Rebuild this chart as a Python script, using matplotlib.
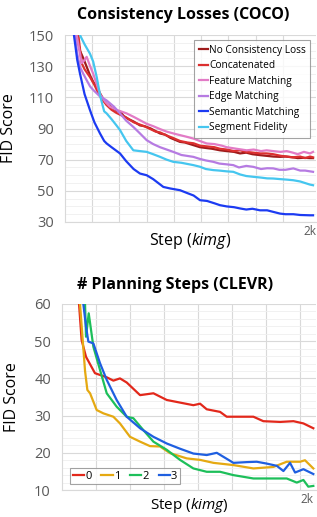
import matplotlib.pyplot as plt
import numpy as np
from matplotlib.ticker import MultipleLocator, FixedLocator

plt.rcParams['font.family'] = ['Open Sans', 'DejaVu Sans']
plt.rcParams['mathtext.fontset'] = 'custom'
plt.rcParams['mathtext.rm'] = 'Open Sans'
plt.rcParams['mathtext.it'] = 'Open Sans:italic'

# ---- top chart: consistency losses on COCO (x in kimg, y = FID) ----
noloss_x = [95, 122, 150, 177, 205, 230, 259, 290, 320, 340, 380, 420, 449, 480, 520, 560, 612, 650, 700, 776, 820, 860,
            939, 980, 1020, 1102, 1150, 1200, 1265, 1320, 1380, 1429, 1480, 1530, 1592, 1640, 1700, 1755, 1800, 1860,
            1900, 1950, 2000, 2025]
noloss_y = [150, 140, 135, 129.6, 124, 120, 116.8, 112, 108, 106, 103.5, 101.5, 100.8, 98, 96, 94.5, 92, 91.5, 90, 86.8,
            86, 84, 81.4, 81, 80, 78, 77.5, 77, 76, 75.5, 75, 74, 74.5, 73.5, 72.9, 72.5, 72, 71.8, 72, 71.5, 71, 71.2,
            71, 71]
concat_x = [109, 136, 160, 204, 240, 270, 300, 340, 380, 420, 460, 500, 560, 612, 660, 700, 740, 776, 830, 880, 939,
            1000, 1050, 1102, 1160, 1220, 1265, 1320, 1380, 1429, 1480, 1540, 1592, 1646, 1700, 1760, 1810, 1860, 1920,
            1960, 2000, 2025]
concat_y = [150, 132, 128, 123, 118, 113, 109, 105, 102, 100, 98.5, 97, 94, 92.5, 91, 89.5, 88, 87.5, 85.5, 84, 82, 81,
            80.5, 79, 78.5, 78, 77, 76.5, 75.5, 76, 75, 74.5, 74, 74, 73.5, 72.5, 72, 71.5, 72, 71, 72, 71.5]
feat_x = [95, 136, 150, 177, 205, 231, 260, 286, 330, 367, 420, 503, 560, 620, 667, 720, 780, 830, 900, 993, 1050, 1100,
          1157, 1220, 1280, 1320, 1400, 1483, 1540, 1600, 1646, 1700, 1760, 1810, 1860, 1900, 1950, 2000, 2025]
feat_y = [150, 132, 133, 136, 130, 125, 118, 112, 107, 104, 102, 99.7, 97.5, 95, 93, 91.5, 89.5, 88, 86.5, 84.7, 83.5,
          82, 80.4, 80, 79, 78, 77, 76, 76.5, 75.5, 76, 75.5, 75, 75.5, 74.5, 73.5, 75, 74, 75]
edge_x = [82, 100, 122, 150, 177, 205, 231, 280, 340, 400, 449, 500, 558, 610, 667, 720, 776, 830, 884, 950, 1048, 1100,
          1150, 1211, 1260, 1320, 1374, 1420, 1480, 1537, 1600, 1650, 1700, 1750, 1800, 1864, 1920, 1960, 2000, 2025]
edge_y = [150, 138, 129.6, 125, 121, 117, 114.7, 111, 108, 104, 99.7, 95, 91, 87, 82.5, 80, 78, 76.5, 75, 73, 71.8,
          70.5, 69.5, 68.6, 67.5, 67, 66.5, 65, 66, 65.4, 64, 64.5, 64.4, 63.5, 63.5, 64.4, 63, 63, 62.5, 62.2]
sem_x = [73, 100, 122, 160, 204, 240, 286, 320, 340, 380, 449, 500, 560, 612, 667, 720, 803, 860, 939, 1000, 1050, 1102,
         1160, 1220, 1265, 1320, 1380, 1429, 1480, 1530, 1592, 1650, 1700, 1755, 1800, 1864, 1920, 2000, 2025]
sem_y = [150, 134, 125.4, 112, 101.8, 94, 86.8, 82, 80.4, 78, 74, 69, 64, 61.1, 60, 57.5, 52.5, 51.5, 50.4, 48.5, 47,
         44, 43.5, 42, 40.8, 40, 39.5, 38.7, 38, 38.5, 37.5, 37.5, 36.5, 35.4, 35, 35, 34.5, 34.3, 34.3]
seg_x = [122, 160, 204, 230, 259, 290, 320, 340, 380, 420, 449, 500, 558, 612, 667, 720, 776, 830, 884, 950, 1048, 1100,
         1150, 1211, 1260, 1320, 1374, 1430, 1480, 1537, 1600, 1650, 1700, 1760, 1810, 1864, 1920, 1960, 2000, 2025]
seg_y = [150, 144, 138, 133, 123, 110, 101, 99.7, 96, 92, 89, 82, 76, 75.5, 75, 73.5, 71.8, 70, 68.6, 68, 66.5, 65.5,
         64, 63.3, 63, 62.5, 62.2, 60.5, 59.5, 59, 58.5, 58, 57.9, 57.5, 57.2, 56.8, 56, 55, 54, 53.6]

top_series = [
    ('No Consistency Loss', noloss_x, noloss_y, '#9E1B1B'),
    ('Concatenated', concat_x, concat_y, '#DC2F2F'),
    ('Feature Matching', feat_x, feat_y, '#E27BC6'),
    ('Edge Matching', edge_x, edge_y, '#B67BE2'),
    ('Semantic Matching', sem_x, sem_y, '#1C3BF2'),
    ('Segment Fidelity', seg_x, seg_y, '#45C6EF'),
]
top_yticks = [30, 50, 70, 90, 110, 130, 150]

# ---- bottom chart: number of planning steps on CLEVR ----
s0_x = [139, 160, 196, 269, 365, 419, 473, 528, 637, 746, 855, 963, 1072, 1127, 1181, 1290, 1344, 1399, 1562, 1643,
        1780, 1889, 1970, 2051]
s0_y = [60, 50.3, 45.8, 41.4, 40.3, 39.4, 40.0, 38.9, 35.5, 36.0, 34.2, 33.5, 32.8, 33.2, 31.7, 31.0, 29.7, 29.7, 29.7,
        28.5, 28.3, 28.5, 27.9, 26.6]
s1_x = [147, 188, 207, 229, 283, 338, 419, 473, 555, 637, 718, 800, 882, 1018, 1127, 1236, 1399, 1562, 1725, 1834,
        1943, 1983, 2051]
s1_y = [60, 42, 36.9, 36.0, 31.5, 30.6, 29.7, 27.9, 24.3, 23.0, 21.8, 21.7, 19.9, 18.5, 18.1, 17.3, 16.7, 15.8, 16.2,
        17.6, 17.6, 18, 15.8]
s2_x = [188, 196, 218, 256, 310, 365, 446, 528, 582, 664, 746, 855, 963, 1072, 1181, 1290, 1399, 1562, 1725, 1834,
        1916, 1970, 2010, 2051]
s2_y = [60, 51.2, 57.5, 48.5, 42.3, 36.0, 32.4, 29.7, 29.3, 26.1, 23.0, 20.8, 18.1, 15.8, 14.9, 14.9, 14.0, 13.1, 13.1,
        13.1, 12.0, 12.7, 10.9, 11.1]
s3_x = [174, 196, 215, 256, 310, 365, 446, 528, 637, 746, 855, 963, 1072, 1181, 1263, 1399, 1508, 1589, 1671, 1753,
        1807, 1861, 1902, 1970, 2051]
s3_y = [60, 53.9, 49.9, 49.4, 44.1, 39.6, 34.2, 29.7, 26.6, 24.3, 22.5, 21.1, 19.8, 19.4, 20.0, 17.3, 17.5, 17.6, 17.1,
        16.5, 15.1, 17.3, 14.7, 15.6, 14.3]

bottom_series = [
    ('0', s0_x, s0_y, '#E2281B'),
    ('1', s1_x, s1_y, '#E5A912'),
    ('2', s2_x, s2_y, '#1DBF5A'),
    ('3', s3_x, s3_y, '#1F5FE0'),
]
bottom_yticks = [10, 20, 30, 40, 50, 60]

tick_gray = '#595959'
grid_major = '#D9D9D9'
grid_minor = '#EFEFEF'


def style_axes(ax, xmax, yticks, ymin, xgrid, xlab_pos, ylab_x, xlab_y):
    ax.set_xlim(0, xmax)
    ax.set_ylim(yticks[0], yticks[-1])
    ax.yaxis.set_major_locator(FixedLocator(yticks))
    ax.yaxis.set_minor_locator(MultipleLocator(ymin))
    ax.xaxis.set_minor_locator(FixedLocator(xgrid))
    ax.set_xticks([xlab_pos])
    ax.set_xticklabels(['2k'])
    ax.grid(True, which='major', axis='y', color=grid_major, lw=0.8)
    ax.grid(True, which='minor', axis='y', color=grid_minor, lw=0.6)
    ax.grid(True, which='minor', axis='x', color=grid_major, lw=0.8)
    ax.set_axisbelow(True)
    for s in ['top', 'right']:
        ax.spines[s].set_visible(False)
    for s in ['left', 'bottom']:
        ax.spines[s].set_color(grid_major)
    ax.tick_params(axis='both', which='both', length=0, colors=tick_gray)
    ax.tick_params(axis='y', labelsize=10.5, pad=8)
    ax.tick_params(axis='x', labelsize=8.5, pad=2)
    ax.set_ylabel('FID Score', fontsize=11.5)
    ax.yaxis.set_label_coords(ylab_x, 0.5)
    ax.set_xlabel(r'Step $\mathit{(kimg)}$', fontsize=11.5)
    ax.xaxis.set_label_coords(0.5, xlab_y)


fig = plt.figure(figsize=(3.17, 5.17), dpi=100)

ax1 = fig.add_axes([0.205, 0.5706, 0.7918, 0.3617])
for name, xs, ys, c in top_series:
    ax1.plot(xs, ys, color=c, lw=1.6, label=name)
style_axes(ax1, 2049, top_yticks, 5, [2000 / 9 * k for k in range(1, 10)], 2000, -0.19, -0.05)
leg = ax1.legend(loc='upper right', fontsize=7.3, handlelength=0.9, handletextpad=0.1, borderpad=0.45,
                 labelspacing=0.45, fancybox=False, bbox_to_anchor=(0.998, 1.0))
leg.get_frame().set_edgecolor('#8C8C8C')
leg.get_frame().set_linewidth(0.8)
fig.text(0.578, 0.971, 'Consistency Losses (COCO)', ha='center', va='center', fontsize=11.5, fontweight='bold')

ax2 = fig.add_axes([0.1956, 0.0522, 0.8013, 0.3598])
for name, xs, ys, c in bottom_series:
    ax2.plot(xs, ys, color=c, lw=1.6, label=name)
style_axes(ax2, 2073, bottom_yticks, 2, [277 * k for k in range(1, 8)], 2000, -0.165, -0.03)
ax2.xaxis.label.set_fontsize(11)
leg2 = ax2.legend(loc='lower left', ncol=4, fontsize=8, handlelength=1.0, handletextpad=0.1, borderpad=0.25,
                  columnspacing=0.9, fancybox=False, bbox_to_anchor=(0.01, 0.0))
leg2.get_frame().set_edgecolor('#8C8C8C')
leg2.get_frame().set_linewidth(0.8)
fig.text(0.552, 0.449, '# Planning Steps (CLEVR)', ha='center', va='center', fontsize=11.5, fontweight='bold')

plt.savefig('out.png', dpi=100)
